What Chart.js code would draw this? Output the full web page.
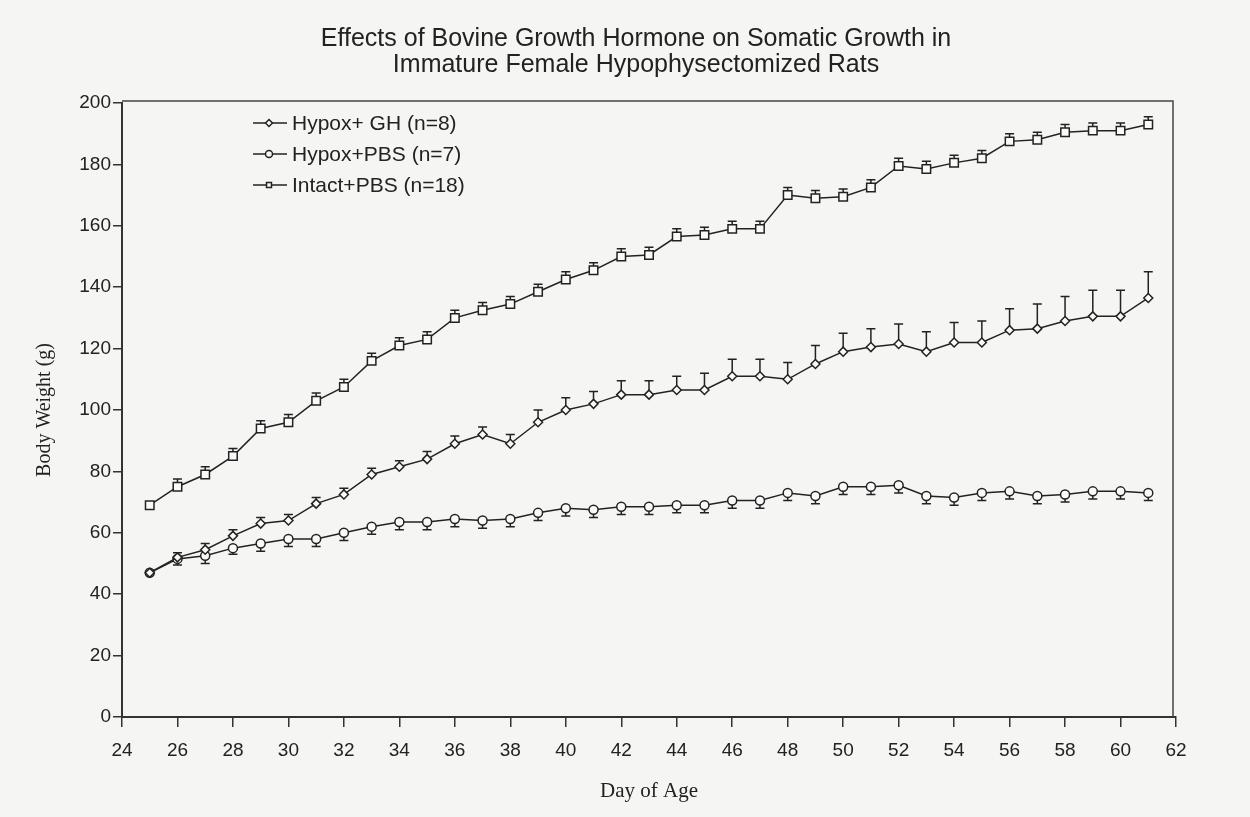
<!DOCTYPE html>
<html>
<head>
<meta charset="utf-8">
<title>Effects of Bovine Growth Hormone on Somatic Growth</title>
<script src="https://cdn.jsdelivr.net/npm/chart.js@4.4.1/dist/chart.umd.min.js"></script>
<style>
  html, body { margin: 0; padding: 0; background: #f5f5f3; }
  #wrap { position: relative; width: 1250px; height: 817px; }
</style>
</head>
<body>
<div id="wrap"><canvas id="growth-chart" width="1250" height="817"></canvas></div>
<script>
(() => {
  // data (body weight in g, by day of age)
  const days = [25, 26, 27, 28, 29, 30, 31, 32, 33, 34, 35, 36, 37, 38, 39, 40, 41, 42, 43,
    44, 45, 46, 47, 48, 49, 50, 51, 52, 53, 54, 55, 56, 57, 58, 59, 60, 61];

  const ghWeight = [47, 52, 54.5, 59, 63, 64, 69.5, 72.5, 79, 81.5, 84, 89, 92, 89, 96, 100, 102,
    105, 105, 106.5, 106.5, 111, 111, 110, 115, 119, 120.5, 121.5, 119, 122, 122, 126, 126.5,
    129, 130.5, 130.5, 136.5];
  const ghError = [0, 1.5, 2, 2, 2, 2, 2, 2, 2, 2, 2.5, 2.5, 2.5, 3, 4, 4, 4, 4.5, 4.5, 4.5,
    5.5, 5.5, 5.5, 5.5, 6, 6, 6, 6.5, 6.5, 6.5, 7, 7, 8, 8, 8.5, 8.5, 8.5];

  const pbsWeight = [47, 51.5, 52.5, 55, 56.5, 58, 58, 60, 62, 63.5, 63.5, 64.5, 64, 64.5, 66.5,
    68, 67.5, 68.5, 68.5, 69, 69, 70.5, 70.5, 73, 72, 75, 75, 75.5, 72, 71.5, 73, 73.5, 72,
    72.5, 73.5, 73.5, 73];
  const pbsError = [0, 2, 2.5, 2, 2.5, 2.5, 2.5, 2.5, 2.5, 2.5, 2.5, 2.5, 2.5, 2.5, 2.5, 2.5,
    2.5, 2.5, 2.5, 2.5, 2.5, 2.5, 2.5, 2.5, 2.5, 2.5, 2.5, 2.5, 2.5, 2.5, 2.5, 2.5, 2.5, 2.5,
    2.5, 2.5, 2.5];

  const intactWeight = [69, 75, 79, 85, 94, 96, 103, 107.5, 116, 121, 123, 130, 132.5, 134.5,
    138.5, 142.5, 145.5, 150, 150.5, 156.5, 157, 159, 159, 170, 169, 169.5, 172.5, 179.5,
    178.5, 180.5, 182, 187.5, 188, 190.5, 191, 191, 193];
  const intactError = [0, 2.5, 2.5, 2.5, 2.5, 2.5, 2.5, 2.5, 2.5, 2.5, 2.5, 2.5, 2.5, 2.5,
    2.5, 2.5, 2.5, 2.5, 2.5, 2.5, 2.5, 2.5, 2.5, 2.5, 2.5, 2.5, 2.5, 2.5, 2.5, 2.5, 2.5, 2.5,
    2.5, 2.5, 2.5, 2.5, 2.5];

  const seriesLabels = ["Hypox+ GH (n=8)", "Hypox+PBS (n=7)", "Intact+PBS (n=18)"];
  const titleLines = ["Effects of Bovine Growth Hormone on Somatic Growth in",
    "Immature Female Hypophysectomized Rats"];
  const xTitle = "Day of Age";
  const yTitle = "Body Weight (g)";

  const ink = "#222";
  const sans = "'Liberation Sans', Arial, sans-serif";
  const serif = "'Liberation Serif', 'Times New Roman', serif";

  const toPoints = (values) => days.map((d, i) => ({ x: d, y: values[i] }));

  function series(label, values, errors, dir, style, radius) {
    return {
      label,
      data: toPoints(values),
      errors,
      errorDir: dir,
      borderColor: ink,
      borderWidth: 1.5,
      pointStyle: style,
      pointRadius: radius,
      pointBorderColor: ink,
      pointBorderWidth: 1.5,
      pointBackgroundColor: "#fafafa",
      tension: 0,
      fill: false
    };
  }

  // vertical error bars with a small cap, drawn under the markers
  const errorBars = {
    id: "errorBars",
    beforeDatasetsDraw(chart) {
      const { ctx, scales: { x, y } } = chart;
      ctx.save();
      ctx.strokeStyle = ink;
      ctx.lineWidth = 1.5;
      chart.data.datasets.forEach((ds) => {
        ds.data.forEach((pt, j) => {
          const err = ds.errors[j];
          if (!err) return;
          const px = x.getPixelForValue(pt.x);
          const y0 = y.getPixelForValue(pt.y);
          const y1 = y.getPixelForValue(pt.y + ds.errorDir * err);
          ctx.beginPath();
          ctx.moveTo(px, y0);
          ctx.lineTo(px, y1);
          ctx.moveTo(px - 4.5, y1);
          ctx.lineTo(px + 4.5, y1);
          ctx.stroke();
        });
      });
      ctx.restore();
    }
  };

  // box round the plot, two-line title and the in-plot legend
  const decorations = {
    id: "decorations",
    afterDraw(chart) {
      const { ctx, chartArea: area } = chart;
      ctx.save();
      ctx.strokeStyle = "#444";
      ctx.lineWidth = 1.5;
      ctx.beginPath();
      ctx.moveTo(area.left, area.top - 2);
      ctx.lineTo(area.right - 3, area.top - 2);
      ctx.lineTo(area.right - 3, area.bottom);
      ctx.stroke();

      ctx.fillStyle = ink;
      ctx.textAlign = "center";
      ctx.textBaseline = "middle";
      ctx.font = "25px " + sans;
      titleLines.forEach((line, i) => ctx.fillText(line, 636, 39 + i * 26));

      ctx.font = "21px " + sans;
      ctx.textAlign = "left";
      chart.data.datasets.forEach((ds, i) => {
        const ly = 123 + i * 31;
        ctx.strokeStyle = ink;
        ctx.lineWidth = 1.5;
        ctx.beginPath();
        ctx.moveTo(253, ly);
        ctx.lineTo(287, ly);
        ctx.stroke();
        ctx.fillStyle = "#fafafa";
        Chart.helpers.drawPoint(ctx, { pointStyle: ds.pointStyle, radius: 3.5, borderWidth: 1.5 }, 269, ly);
        ctx.fillStyle = ink;
        ctx.fillText(ds.label, 292, ly + 1);
      });
      ctx.restore();
    }
  };

  new Chart(document.getElementById("growth-chart"), {
    type: "line",
    data: {
      datasets: [
        series(seriesLabels[0], ghWeight, ghError, 1, "rectRot", 4.5),
        series(seriesLabels[1], pbsWeight, pbsError, -1, "circle", 4.5),
        series(seriesLabels[2], intactWeight, intactError, 1, "rect", 6)
      ]
    },
    options: {
      responsive: false,
      animation: false,
      devicePixelRatio: 1,
      layout: { padding: { left: 29, right: 74, top: 103, bottom: 9 } },
      plugins: {
        legend: { display: false },
        title: { display: false },
        tooltip: { enabled: false }
      },
      scales: {
        x: {
          type: "linear",
          min: 24,
          max: 62,
          ticks: { stepSize: 2, color: ink, font: { family: sans, size: 19 }, padding: 12, maxRotation: 0 },
          grid: { drawOnChartArea: false, drawTicks: true, tickLength: 10, color: "#333", lineWidth: 1.5 },
          border: { display: true, color: "#333", width: 2 },
          title: { display: true, text: xTitle, color: ink, font: { family: serif, size: 21 } },
          afterFit(scale) { scale.height = 91; }
        },
        y: {
          min: 0,
          max: 200,
          ticks: { stepSize: 20, color: ink, font: { family: sans, size: 19 }, padding: 2 },
          grid: { drawOnChartArea: false, drawTicks: true, tickLength: 9, color: "#333", lineWidth: 1.5 },
          border: { display: true, color: "#333", width: 2 },
          title: { display: true, text: yTitle, color: ink, font: { family: serif, size: 20 } },
          afterFit(scale) { scale.width = 93; }
        }
      }
    },
    plugins: [errorBars, decorations]
  });
})();
</script>
</body>
</html>
